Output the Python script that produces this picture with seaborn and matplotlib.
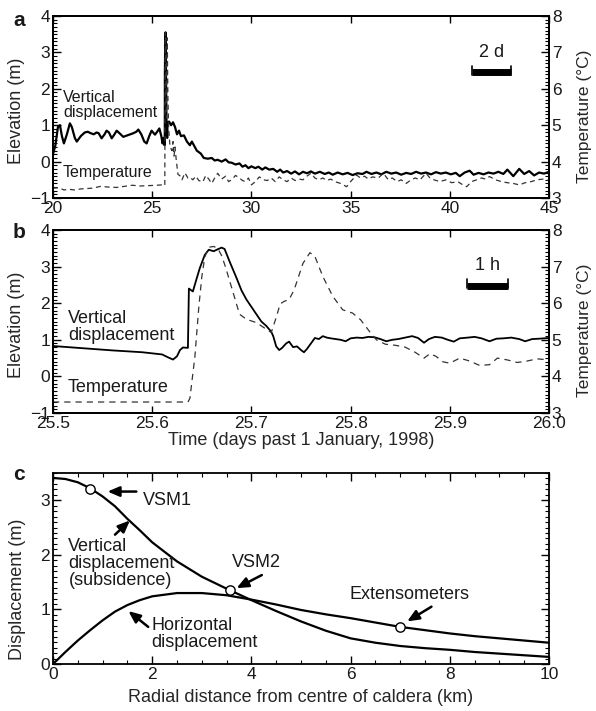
import matplotlib
matplotlib.use('Agg')
import matplotlib.pyplot as plt
from matplotlib.ticker import MultipleLocator
import seaborn as sns

sns.set_style('ticks')
plt.rcParams['font.family'] = ['Liberation Sans', 'DejaVu Sans']
plt.rcParams['xtick.direction'] = 'in'
plt.rcParams['ytick.direction'] = 'in'
plt.rcParams['axes.linewidth'] = 1.3
plt.rcParams['axes.edgecolor'] = 'black'
plt.rcParams['text.color'] = '#1a1a1a'
plt.rcParams['xtick.color'] = 'black'
plt.rcParams['ytick.color'] = 'black'
plt.rcParams['xtick.labelcolor'] = '#1a1a1a'
plt.rcParams['ytick.labelcolor'] = '#1a1a1a'

# ---- panel a: 20 - 45 days ----
days_a_vd = [20.0, 20.12, 20.25, 20.35, 20.45, 20.55, 20.7, 20.85, 20.95, 21.1, 21.2, 21.4, 21.6,
             21.75, 21.9, 22.05, 22.2, 22.3, 22.45, 22.6, 22.7, 22.82, 22.96, 23.1, 23.21, 23.35,
             23.54, 23.75, 24.05, 24.2, 24.3, 24.45, 24.6, 24.72, 24.85, 24.97, 25.05, 25.14, 25.25,
             25.36, 25.46, 25.52, 25.56, 25.6, 25.62, 25.636, 25.64, 25.66, 25.672, 25.695, 25.72,
             25.73, 25.74, 25.755, 25.77, 25.85, 25.95, 26.05, 26.15, 26.25, 26.35, 26.45, 26.6,
             26.75, 26.9, 27.0, 27.1, 27.25, 27.45, 27.6, 27.8, 28.0, 28.15, 28.3, 28.5, 28.7,
             28.85, 29.0, 29.2, 29.4, 29.55, 29.7, 29.85, 30.0, 30.2, 30.35, 30.55, 30.7, 30.9,
             31.1, 31.3, 31.45, 31.6, 31.8, 32.0, 32.2, 32.4, 32.6, 32.8, 33.0, 33.2, 33.45, 33.7,
             33.9, 34.1, 34.35, 34.6, 34.85, 35.1, 35.35, 35.6, 35.8, 36.05, 36.3, 36.55, 36.8,
             37.05, 37.3, 37.55, 37.8, 38.05, 38.3, 38.55, 38.8, 39.05, 39.3, 39.55, 39.8, 40.05,
             40.3, 40.5, 40.75, 41.0, 41.2, 41.45, 41.7, 41.95, 42.2, 42.45, 42.7, 42.9, 43.2,
             43.5, 43.75, 44.0, 44.25, 44.5, 44.75, 45.0]
elev_a_vd = [0.20, 0.45, 0.95, 1.00, 0.70, 0.50, 0.75, 1.05, 0.95, 0.65, 0.55, 0.70, 0.80,
             0.82, 0.78, 0.75, 0.80, 0.78, 0.64, 0.75, 0.85, 0.80, 0.64, 0.75, 0.85, 0.78,
             0.68, 0.72, 0.78, 0.82, 0.88, 0.75, 0.55, 0.50, 0.70, 0.85, 0.80, 0.74, 0.82,
             0.91, 0.70, 0.50, 0.65, 0.62, 0.45, 0.78, 2.40, 3.45, 3.55, 2.30, 1.25,
             0.70, 0.95, 0.65, 1.05, 1.10, 1.00, 1.08, 0.95, 0.75, 0.85, 0.70, 0.72,
             0.55, 0.45, 0.55, 0.45, 0.30, 0.22, 0.10, 0.08, 0.10, 0.03, 0.05, 0.00, 0.06,
             -0.02, -0.03, -0.08, -0.05, -0.14, -0.10, -0.18, -0.13, -0.18, -0.14, -0.22, -0.16, -0.22,
             -0.20, -0.28, -0.22, -0.30, -0.26, -0.33, -0.27, -0.35, -0.28, -0.32, -0.27, -0.33, -0.28, -0.34,
             -0.30, -0.36, -0.30, -0.35, -0.31, -0.37, -0.32, -0.34, -0.28, -0.34, -0.30, -0.35, -0.28,
             -0.33, -0.30, -0.36, -0.31, -0.34, -0.28, -0.33, -0.30, -0.35, -0.29, -0.33, -0.30, -0.35,
             -0.31, -0.40, -0.30, -0.25, -0.36, -0.31, -0.35, -0.30, -0.33, -0.28, -0.34, -0.22, -0.40,
             -0.20, -0.34, -0.26, -0.38, -0.30, -0.33, -0.28]

days_a_temp = [20.0, 20.3, 20.55, 20.8, 21.1, 21.4, 21.7, 22.0, 22.4, 22.8, 23.2, 23.6, 24.0, 24.4,
               24.8, 25.2, 25.5, 25.635, 25.655, 25.665, 25.69, 25.72, 25.73, 25.759, 25.79, 25.83,
               25.9, 25.95, 26.0, 26.05, 26.1, 26.15, 26.22, 26.3, 26.4, 26.5, 26.65, 26.8, 26.9,
               27.05, 27.2, 27.35, 27.55, 27.7, 27.85, 28.0, 28.15, 28.3, 28.5, 28.7, 28.85, 29.0,
               29.2, 29.4, 29.55, 29.7, 29.85, 30.0, 30.2, 30.4, 30.6, 30.8, 31.0, 31.2, 31.4, 31.6,
               31.8, 32.0, 32.2, 32.4, 32.6, 32.8, 33.0, 33.2, 33.4, 33.6, 33.8, 34.0, 34.2, 34.5,
               34.8, 35.0, 35.3, 35.5, 35.7, 35.9, 36.1, 36.4, 36.65, 36.9, 37.1, 37.35, 37.55, 37.8,
               38.0, 38.25, 38.5, 38.8, 39.0, 39.2, 39.5, 39.8, 40.1, 40.4, 40.6, 40.85, 41.1, 41.35,
               41.6, 41.8, 42.0, 42.3, 42.6, 42.9, 43.2, 43.5, 43.8, 44.1, 44.4, 44.7, 45.0]
temp_a = [3.27, 3.28, 3.22, 3.24, 3.22, 3.25, 3.26, 3.27, 3.32, 3.30, 3.29, 3.32, 3.35, 3.33,
          3.34, 3.35, 3.36, 3.34, 7.50, 7.55, 5.80, 5.20, 6.00, 7.40, 5.80, 4.90,
          4.40, 4.35, 4.30, 4.55, 4.15, 4.40, 4.00, 3.65, 3.61, 3.50, 3.69, 3.55, 3.57,
          3.50, 3.60, 3.48, 3.44, 3.62, 3.52, 3.40, 3.55, 3.68, 3.52, 3.60, 3.45, 3.50,
          3.62, 3.55, 3.48, 3.45, 3.55, 3.36, 3.45, 3.58, 3.50, 3.48, 3.55, 3.45, 3.58, 3.50,
          3.45, 3.55, 3.48, 3.52, 3.50, 3.60, 3.68, 3.55, 3.50, 3.55, 3.48, 3.52, 3.45, 3.40,
          3.31, 3.45, 3.63, 3.55, 3.60, 3.52, 3.58, 3.55, 3.68, 3.50, 3.55, 3.45, 3.50, 3.40,
          3.48, 3.55, 3.50, 3.68, 3.55, 3.50, 3.45, 3.50, 3.42, 3.45, 3.38, 3.31, 3.45, 3.50,
          3.55, 3.52, 3.59, 3.50, 3.45, 3.42, 3.40, 3.36, 3.42, 3.45, 3.50, 3.52, 3.48]

# ---- panel b: 25.5 - 26.0 days ----
days_b_vd = [25.500, 25.530, 25.560, 25.590, 25.610, 25.616, 25.621, 25.625, 25.628, 25.631, 25.636,
             25.637, 25.641, 25.645, 25.648, 25.653, 25.657, 25.662, 25.665, 25.670, 25.673, 25.678,
             25.685, 25.690, 25.695, 25.700, 25.705, 25.710, 25.715, 25.720, 25.722, 25.725, 25.728,
             25.731, 25.735, 25.738, 25.742, 25.746, 25.750, 25.753, 25.756, 25.760, 25.764, 25.768,
             25.772, 25.776, 25.780, 25.785, 25.790, 25.795, 25.800, 25.806, 25.812, 25.818, 25.824,
             25.830, 25.836, 25.842, 25.848, 25.855, 25.862, 25.868, 25.874, 25.879, 25.885, 25.892,
             25.898, 25.904, 25.910, 25.918, 25.925, 25.932, 25.940, 25.947, 25.954, 25.962, 25.970,
             25.976, 25.983, 25.990, 26.000]
elev_b_vd = [0.83, 0.77, 0.71, 0.66, 0.60, 0.52, 0.46, 0.55, 0.72, 0.79, 0.78,
             2.40, 2.32, 2.69, 2.96, 3.32, 3.46, 3.42, 3.46, 3.52, 3.48, 3.14,
             2.69, 2.35, 2.10, 1.90, 1.70, 1.50, 1.38, 1.22, 1.10, 0.82, 0.72,
             0.78, 0.90, 0.95, 0.80, 0.82, 0.72, 0.66, 0.75, 0.90, 1.05, 1.02,
             1.10, 1.06, 1.04, 1.02, 1.00, 0.96, 1.04, 1.06, 1.05, 1.08, 1.07,
             1.02, 0.96, 1.00, 1.02, 1.06, 1.10, 1.05, 0.92, 1.02, 1.08, 1.06,
             1.00, 0.95, 1.04, 1.06, 1.08, 1.04, 0.96, 1.03, 1.04, 1.06, 1.02,
             0.96, 1.02, 1.03, 1.05]

days_b_temp = [25.500, 25.636, 25.638, 25.643, 25.647, 25.650, 25.653, 25.657, 25.662, 25.666,
               25.670, 25.674, 25.682, 25.688, 25.695, 25.705, 25.715, 25.720, 25.725, 25.729,
               25.733, 25.738, 25.743, 25.752, 25.759, 25.764, 25.772, 25.782, 25.792, 25.802,
               25.810, 25.819, 25.826, 25.835, 25.845, 25.855, 25.865, 25.874, 25.880, 25.886,
               25.893, 25.900, 25.910, 25.920, 25.930, 25.940, 25.948, 25.958, 25.968, 25.978,
               25.988, 26.000]
temp_b = [3.30, 3.30, 3.40, 4.53, 5.90, 6.72, 7.26, 7.53, 7.55, 7.50,
          7.30, 6.98, 6.25, 5.70, 5.56, 5.47, 5.29, 5.20, 5.61, 5.98,
          6.05, 6.10, 6.36, 7.09, 7.38, 7.28, 6.73, 6.19, 5.82, 5.73,
          5.55, 5.23, 5.00, 4.88, 4.85, 4.80, 4.66, 4.50, 4.62, 4.55,
          4.40, 4.36, 4.50, 4.42, 4.30, 4.32, 4.50, 4.45, 4.38, 4.42,
          4.48, 4.45]

# ---- panel c: model profiles ----
radius_km = [0, 0.25, 0.5, 0.75, 1.0, 1.25, 1.5, 1.75, 2.0, 2.5, 3.0, 3.5, 4.0, 4.5, 5.0,
             5.5, 6.0, 6.5, 7.0, 7.5, 8.0, 8.5, 9.0, 9.5, 10.0]
vert_disp = [3.41, 3.39, 3.33, 3.22, 3.07, 2.89, 2.66, 2.45, 2.23, 1.88, 1.60, 1.38, 1.17, 0.97,
             0.78, 0.61, 0.47, 0.39, 0.33, 0.29, 0.26, 0.22, 0.19, 0.16, 0.13]
horiz_disp = [0.0, 0.22, 0.43, 0.62, 0.80, 0.96, 1.08, 1.17, 1.24, 1.30, 1.30, 1.26, 1.18, 1.09,
              0.99, 0.91, 0.84, 0.76, 0.68, 0.62, 0.56, 0.51, 0.47, 0.43, 0.39]
station_r = [0.75, 3.57, 7.0]
station_d = [3.21, 1.35, 0.67]

# scale bars (x0, x1, y)
bar_a = (41.1, 43.1, 2.45)
bar_b = (25.917, 25.9587, 2.48)

W, H = 596, 711
fig = plt.figure(figsize=(W / 100, H / 100), dpi=100)


def box(top, bottom, left=53, right=549):
    return [left / W, 1 - bottom / H, (right - left) / W, (bottom - top) / H]


def style_time(ax, ax2, xlim, xstep, ylab_y):
    ax.set_xlim(*xlim)
    ax.set_ylim(-1, 4)
    ax2.set_ylim(3, 8)
    ax.xaxis.set_major_locator(MultipleLocator(xstep))
    ax.yaxis.set_major_locator(MultipleLocator(1))
    ax.yaxis.set_minor_locator(MultipleLocator(0.1))
    ax2.yaxis.set_major_locator(MultipleLocator(1))
    ax2.yaxis.set_minor_locator(MultipleLocator(0.1))
    ax.tick_params(axis='x', which='major', top=True, bottom=True, length=5, width=1,
                   pad=2, labelsize=12.5)
    ax.tick_params(axis='y', which='major', left=True, right=False, length=6, width=1,
                   pad=2, labelsize=12.5)
    ax.tick_params(axis='y', which='minor', left=True, right=False, length=3, width=0.8)
    ax2.tick_params(axis='y', which='major', right=True, length=6, width=1, pad=2,
                    labelsize=12.5)
    ax2.tick_params(axis='y', which='minor', right=True, length=3, width=0.8)
    ax.set_ylabel('Elevation (m)', fontsize=13)
    ax.yaxis.set_label_coords(-0.056, ylab_y)
    ax2.set_ylabel('Temperature (°C)', fontsize=12.5)
    ax2.yaxis.set_label_coords(1.057, 0.45)
    ax.set_xlabel('')
    for s in ax.spines.values():
        s.set_visible(True)
    for s in ax2.spines.values():
        s.set_visible(True)


def scale_bar(ax, bar, label, size):
    x0, x1, y = bar
    ax.plot([x0, x1], [y, y], color='black', lw=5, solid_capstyle='butt')
    ax.plot([x0, x0], [y - 0.07, y + 0.18], color='black', lw=1.2)
    ax.plot([x1, x1], [y - 0.07, y + 0.18], color='black', lw=1.2)
    ax.text((x0 + x1) / 2, y + 0.55, label, ha='center', va='center', fontsize=size)


# panel a
ax_a = fig.add_axes(box(16, 198))
ax_a2 = ax_a.twinx()
sns.lineplot(x=days_a_vd, y=elev_a_vd, ax=ax_a, color='black', lw=1.6,
             estimator=None, sort=False)
sns.lineplot(x=days_a_temp, y=temp_a, ax=ax_a2, color='#333333', lw=0.9,
             linestyle=(0, (4, 3)), estimator=None, sort=False)
style_time(ax_a, ax_a2, (20, 45), 5, 0.48)
ax_a.text(20.5, 1.55, 'Vertical\ndisplacement', ha='left', va='center', fontsize=11.5,
          linespacing=1.0)
ax_a.text(20.5, -0.31, 'Temperature', ha='left', va='center', fontsize=11.5)
scale_bar(ax_a, bar_a, '2 d', 13)

# panel b
ax_b = fig.add_axes(box(230, 413))
ax_b2 = ax_b.twinx()
sns.lineplot(x=days_b_vd, y=elev_b_vd, ax=ax_b, color='black', lw=1.3,
             estimator=None, sort=False)
sns.lineplot(x=days_b_temp, y=temp_b, ax=ax_b2, color='#333333', lw=0.9,
             linestyle=(0, (5, 4)), estimator=None, sort=False)
style_time(ax_b, ax_b2, (25.5, 26.0), 0.1, 0.48)
ax_b.xaxis.set_major_formatter(plt.FormatStrFormatter('%.1f'))
ax_b.set_xlabel('Time (days past 1 January, 1998)', fontsize=13)
ax_b.xaxis.set_label_coords(0.5, -0.105)
ax_b.text(25.515, 1.35, 'Vertical\ndisplacement', ha='left', va='center', fontsize=13,
          linespacing=1.0)
ax_b.text(25.515, -0.31, 'Temperature', ha='left', va='center', fontsize=13)
scale_bar(ax_b, bar_b, '1 h', 13)

# panel c
ax_c = fig.add_axes(box(473, 664))
sns.lineplot(x=radius_km, y=vert_disp, ax=ax_c, color='black', lw=1.6,
             estimator=None, sort=False)
sns.lineplot(x=radius_km, y=horiz_disp, ax=ax_c, color='black', lw=1.6,
             estimator=None, sort=False)
sns.scatterplot(x=station_r, y=station_d, ax=ax_c, s=45, color='white',
                edgecolor='black', linewidth=1, zorder=5)
ax_c.set_xlim(0, 10)
ax_c.set_ylim(0, 3.5)
ax_c.xaxis.set_major_locator(MultipleLocator(2))
ax_c.xaxis.set_minor_locator(MultipleLocator(0.5))
ax_c.yaxis.set_major_locator(MultipleLocator(1))
ax_c.yaxis.set_minor_locator(MultipleLocator(0.1))
ax_c.tick_params(which='major', top=True, right=True, length=6, width=1, pad=2,
                 labelsize=12.5)
ax_c.tick_params(which='minor', top=True, right=True, length=3, width=0.8)
ax_c.set_xlabel('Radial distance from centre of caldera (km)', fontsize=13)
ax_c.xaxis.set_label_coords(0.5, -0.13)
ax_c.set_ylabel('Displacement (m)', fontsize=13)
ax_c.yaxis.set_label_coords(-0.054, 0.39)

arrow = dict(arrowstyle='-|>,head_length=0.7,head_width=0.3', color='black', lw=1.8,
             mutation_scale=10, shrinkA=0, shrinkB=0)
notes_c = [
    ('VSM1', (1.81, 2.99), 'left', (1.10, 3.16), (1.68, 3.16)),
    ('Vertical\ndisplacement\n(subsidence)', (0.31, 1.85), 'left', (1.55, 2.63), (1.25, 2.37)),
    ('VSM2', (4.11, 1.86), 'center', (3.70, 1.39), (4.21, 1.63)),
    ('Horizontal\ndisplacement', (1.99, 0.55), 'left', (1.52, 0.97), (1.92, 0.68)),
    ('Extensometers', (7.18, 1.27), 'center', (7.14, 0.78), (7.63, 1.05)),
]
for txt, pos, ha, head, tail in notes_c:
    ax_c.text(pos[0], pos[1], txt, ha=ha, va='center', fontsize=13, linespacing=1.0)
    ax_c.annotate('', xy=head, xytext=tail, arrowprops=arrow)

# edge tick labels kept inside the frame like the original
for ax in (ax_a, ax_b, ax_c):
    labels = ax.get_xticklabels()
    labels[0].set_horizontalalignment('left')
    labels[-1].set_horizontalalignment('right')

for letter, ypix in (('a', 20), ('b', 232), ('c', 474)):
    fig.text(13 / W, 1 - ypix / H, letter, fontsize=15, fontweight='bold', va='center')

fig.savefig('out.png', dpi=100)
